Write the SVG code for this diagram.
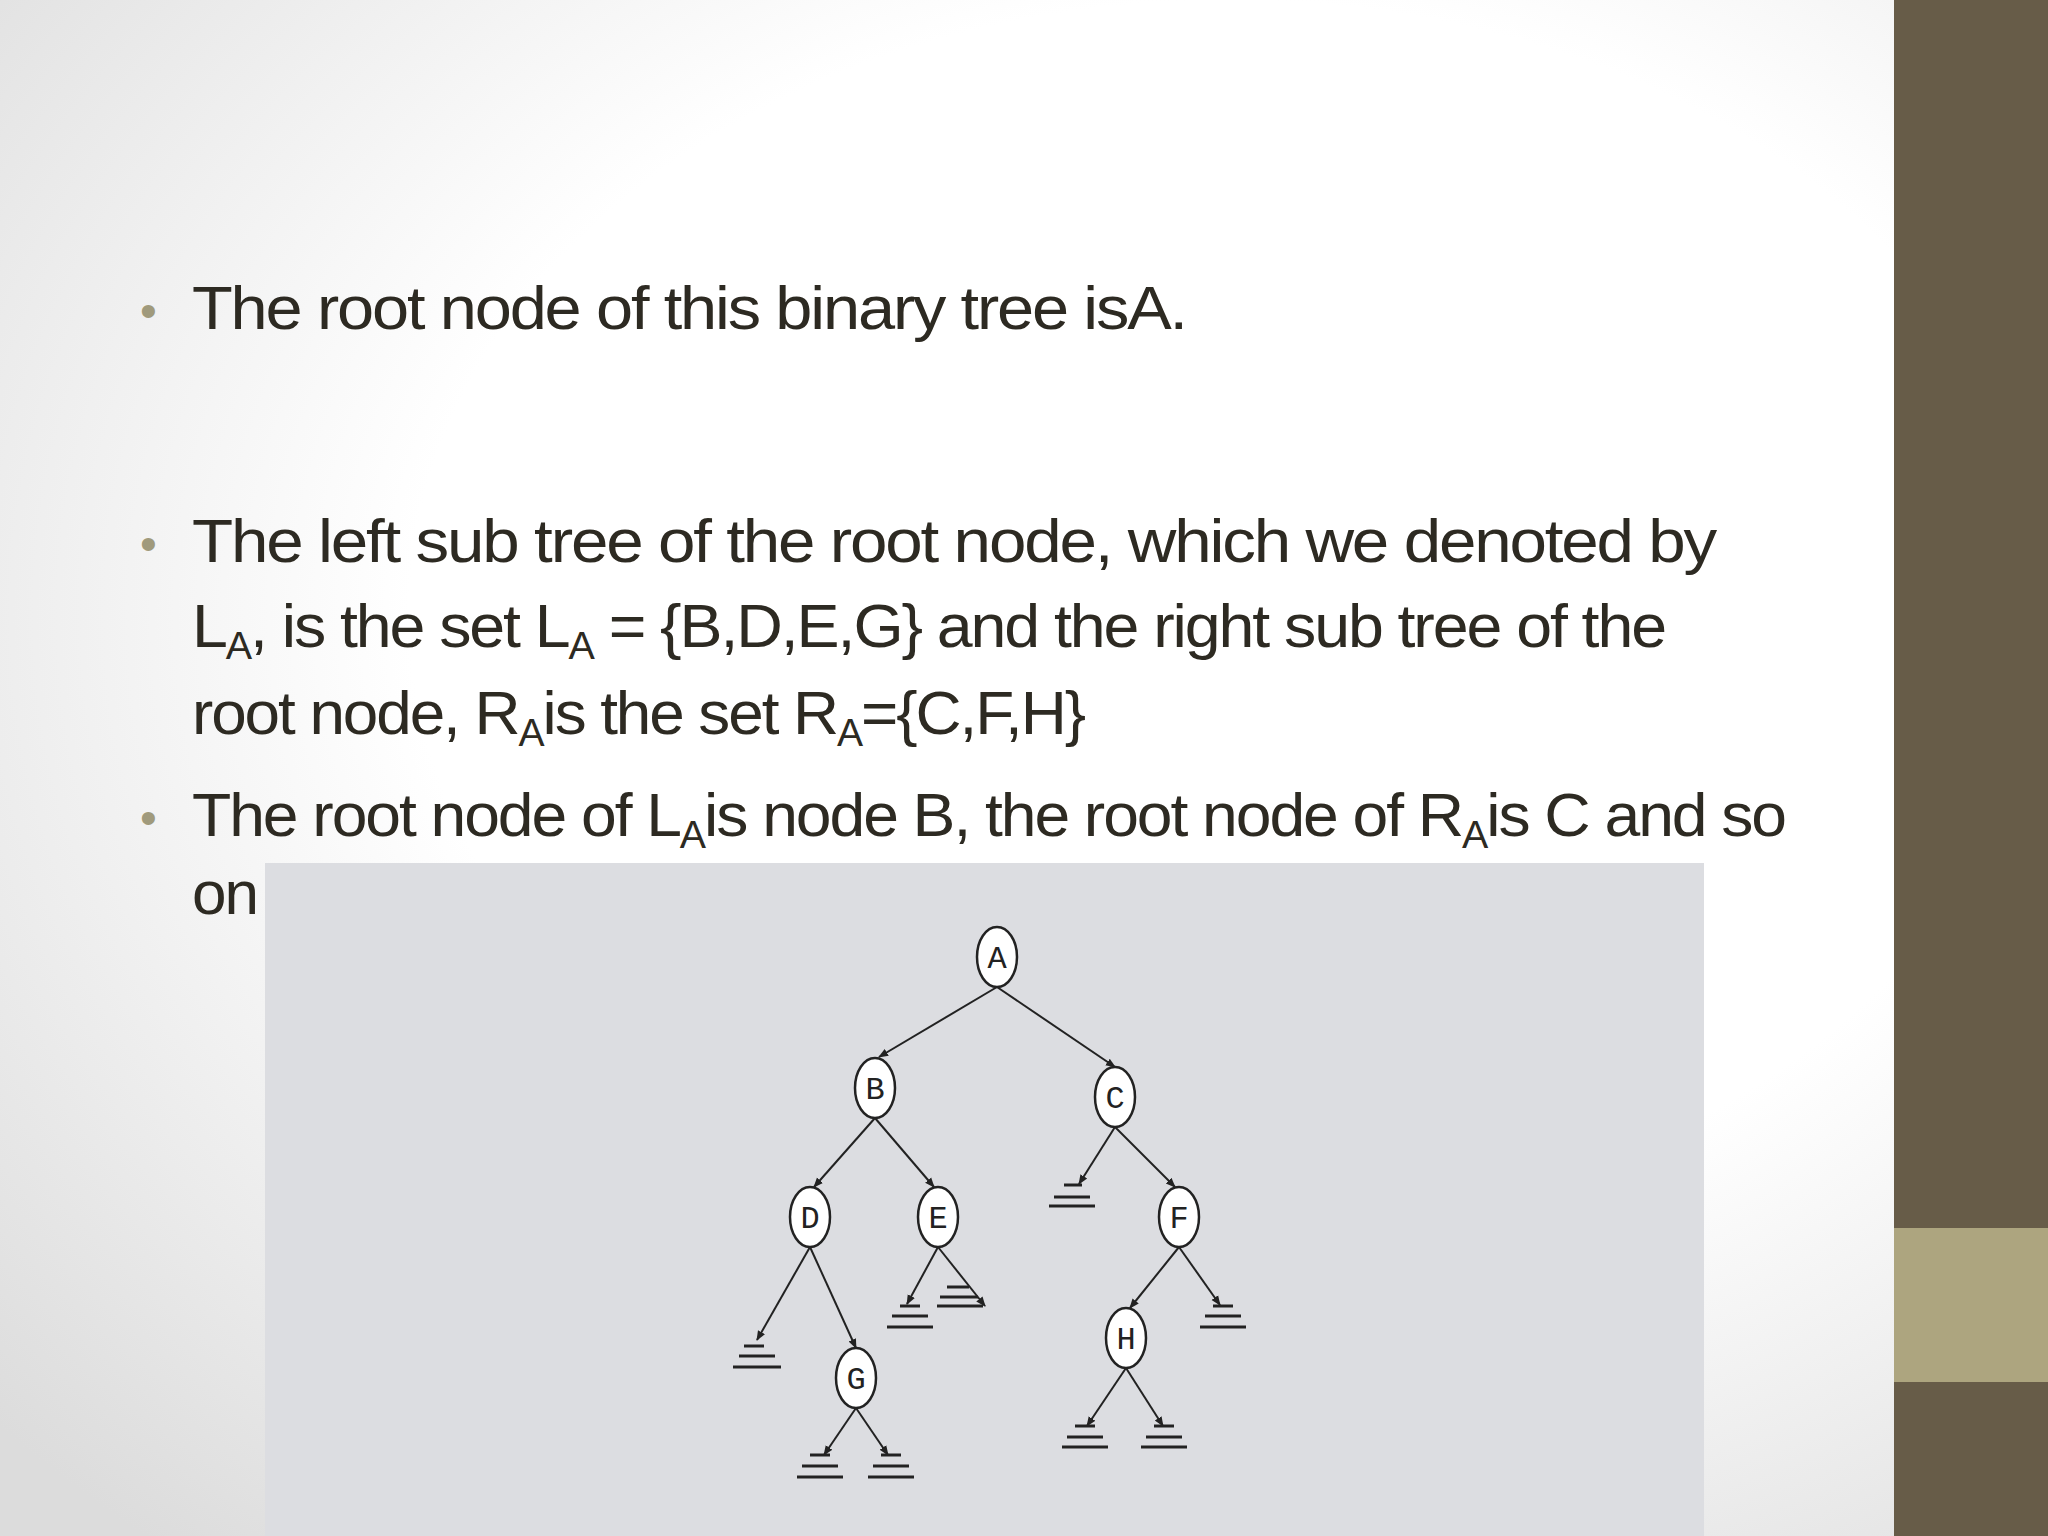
<svg xmlns="http://www.w3.org/2000/svg" width="2048" height="1536" viewBox="0 0 2048 1536">
<defs>
<radialGradient id="bg" cx="0.6" cy="0.4" r="0.8"><stop offset="0.5" stop-color="#ffffff"/><stop offset="1" stop-color="#dcdcdc"/></radialGradient>
<marker id="ah" markerWidth="10" markerHeight="10" refX="9" refY="5" orient="auto" markerUnits="userSpaceOnUse"><path d="M0,1 L10,5 L0,9 z" fill="#222"/></marker>
<style>
.t{font-family:"Liberation Sans",Arial,sans-serif;font-size:62px;fill:#2d2a22;letter-spacing:-2px}
.b{font-family:"Liberation Sans",Arial,sans-serif;font-size:48px;fill:#a09a7c}
.n ellipse{fill:#fff;stroke:#222;stroke-width:2.5}
.n text{font-family:"Liberation Mono","Courier New",monospace;font-size:32px;fill:#222;text-anchor:middle}
.e{stroke:#222;stroke-width:2;fill:none;marker-end:url(#ah)}
.z line{stroke:#222;stroke-width:3}
</style>
</defs>
<rect width="2048" height="1536" fill="url(#bg)"/>
<rect x="1894" y="0" width="154" height="1536" fill="#675c48"/>
<rect x="1894" y="1228" width="154" height="154" fill="#ada57f"/>
<g id="text">
<text class="b" x="140" y="327">•</text>
<text class="b" x="140" y="560">•</text>
<text class="b" x="140" y="834">•</text>
<text class="t" x="192" y="329" textLength="994" lengthAdjust="spacingAndGlyphs">The root node of this binary tree isA.</text>
<text class="t" x="192" y="562" textLength="1523" lengthAdjust="spacingAndGlyphs">The left sub tree of the root node, which we denoted by</text>
<text class="t" x="192" y="647" textLength="1473" lengthAdjust="spacingAndGlyphs">L<tspan font-size="38" dy="12">A</tspan><tspan dy="-12">, is the set  L</tspan><tspan font-size="38" dy="12">A</tspan><tspan dy="-12"> = {B,D,E,G} and the right sub tree of the</tspan></text>
<text class="t" x="192" y="734" textLength="892" lengthAdjust="spacingAndGlyphs">root node, R<tspan font-size="38" dy="12">A</tspan><tspan dy="-12">is the set  R</tspan><tspan font-size="38" dy="12">A</tspan><tspan dy="-12">={C,F,H}</tspan></text>
<text class="t" x="192" y="836" textLength="1593" lengthAdjust="spacingAndGlyphs">The root node of L<tspan font-size="38" dy="12">A</tspan><tspan dy="-12">is node B, the root node of R</tspan><tspan font-size="38" dy="12">A</tspan><tspan dy="-12">is C and so</tspan></text>
<text class="t" x="192" y="914">on</text>
</g>
<rect x="265" y="863" width="1439" height="673" fill="#dcdde1"/>
<g id="connectors">
<line class="e" x1="997" y1="987" x2="879" y2="1057"/>
<line class="e" x1="997" y1="987" x2="1115" y2="1067"/>
<line class="e" x1="875" y1="1118" x2="814" y2="1187"/>
<line class="e" x1="875" y1="1118" x2="934" y2="1187"/>
<line class="e" x1="1115" y1="1127" x2="1079" y2="1184"/>
<line class="e" x1="1115" y1="1127" x2="1175" y2="1187"/>
<line class="e" x1="810" y1="1247" x2="757" y2="1340"/>
<line class="e" x1="810" y1="1247" x2="856" y2="1348"/>
<line class="e" x1="938" y1="1247" x2="907" y2="1304"/>
<line class="e" x1="938" y1="1247" x2="985" y2="1306"/>
<line class="e" x1="1179" y1="1247" x2="1130" y2="1308"/>
<line class="e" x1="1179" y1="1247" x2="1220" y2="1305"/>
<line class="e" x1="856" y1="1408" x2="824" y2="1455"/>
<line class="e" x1="856" y1="1408" x2="888" y2="1455"/>
<line class="e" x1="1126" y1="1368" x2="1087" y2="1426"/>
<line class="e" x1="1126" y1="1368" x2="1163" y2="1426"/>
</g>
<g class="z" id="nulls">
<g transform="translate(757,1346)"><line x1="-13" y1="0" x2="7" y2="0"/><line x1="-18" y1="10" x2="18" y2="10"/><line x1="-24" y1="21" x2="24" y2="21"/></g>
<g transform="translate(910,1306)"><line x1="-10" y1="0" x2="10" y2="0"/><line x1="-18" y1="10" x2="18" y2="10"/><line x1="-23" y1="21" x2="23" y2="21"/></g>
<g transform="translate(960,1287)"><line x1="-13" y1="0" x2="9" y2="0"/><line x1="-20" y1="10" x2="18" y2="10"/><line x1="-23" y1="19" x2="23" y2="19"/></g>
<g transform="translate(1072,1185)"><line x1="-8" y1="0" x2="10" y2="0"/><line x1="-18" y1="12" x2="18" y2="12"/><line x1="-23" y1="21" x2="23" y2="21"/></g>
<g transform="translate(1223,1306)"><line x1="-10" y1="0" x2="10" y2="0"/><line x1="-18" y1="10" x2="18" y2="10"/><line x1="-23" y1="21" x2="23" y2="21"/></g>
<g transform="translate(820,1455)"><line x1="-10" y1="0" x2="10" y2="0"/><line x1="-18" y1="11" x2="18" y2="11"/><line x1="-23" y1="22" x2="23" y2="22"/></g>
<g transform="translate(891,1455)"><line x1="-10" y1="0" x2="10" y2="0"/><line x1="-18" y1="11" x2="18" y2="11"/><line x1="-23" y1="22" x2="23" y2="22"/></g>
<g transform="translate(1085,1426)"><line x1="-10" y1="0" x2="10" y2="0"/><line x1="-18" y1="11" x2="18" y2="11"/><line x1="-23" y1="21" x2="23" y2="21"/></g>
<g transform="translate(1164,1426)"><line x1="-10" y1="0" x2="10" y2="0"/><line x1="-18" y1="11" x2="18" y2="11"/><line x1="-23" y1="21" x2="23" y2="21"/></g>
</g>
<g class="n" id="A"><ellipse cx="997" cy="957" rx="20" ry="30"/><text x="997" y="968">A</text></g>
<g class="n" id="B"><ellipse cx="875" cy="1088" rx="20" ry="30"/><text x="875" y="1099">B</text></g>
<g class="n" id="C"><ellipse cx="1115" cy="1097" rx="20" ry="30"/><text x="1115" y="1108">C</text></g>
<g class="n" id="D"><ellipse cx="810" cy="1217" rx="20" ry="30"/><text x="810" y="1228">D</text></g>
<g class="n" id="E"><ellipse cx="938" cy="1217" rx="20" ry="30"/><text x="938" y="1228">E</text></g>
<g class="n" id="F"><ellipse cx="1179" cy="1217" rx="20" ry="30"/><text x="1179" y="1228">F</text></g>
<g class="n" id="G"><ellipse cx="856" cy="1378" rx="20" ry="30"/><text x="856" y="1389">G</text></g>
<g class="n" id="H"><ellipse cx="1126" cy="1338" rx="20" ry="30"/><text x="1126" y="1349">H</text></g>
</svg>
